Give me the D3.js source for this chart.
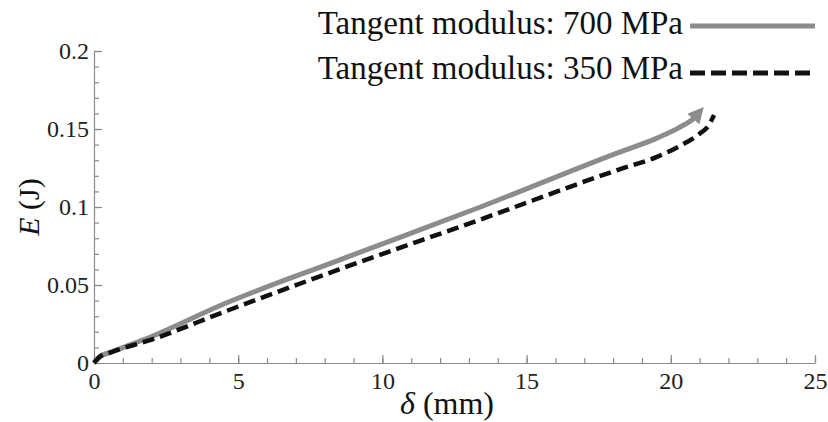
<!DOCTYPE html>
<html>
<head>
<meta charset="utf-8">
<style>
  body { margin: 0; background: #fff; }
  .axis path, .axis line { stroke: #8a8a8a; stroke-width: 1.2; }
</style>
</head>
<body>
<svg width="828" height="422"></svg>
<script src="https://cdnjs.cloudflare.com/ajax/libs/d3/7.8.5/d3.min.js"></script>
<script>
// values
var seriesNames = ["Tangent modulus: 700 MPa", "Tangent modulus: 350 MPa"];
var delta700 = [0, 0.2, 0.6, 2, 4.4, 8.5, 13.4, 18.2, 19.5, 20.3, 20.8, 21.0];
var energy700 = [0, 0.004, 0.007, 0.017, 0.037, 0.066, 0.100, 0.135, 0.144, 0.151, 0.157, 0.161];
var delta350 = [0, 0.2, 0.6, 2, 4.4, 8.5, 13.4, 18.2, 19.5, 20.3, 21.0, 21.3, 21.5];
var energy350 = [0, 0.004, 0.007, 0.015, 0.032, 0.060, 0.092, 0.124, 0.132, 0.139, 0.147, 0.152, 0.159];
var xTicks = [0, 5, 10, 15, 20, 25];
var yTicks = [0, 0.05, 0.1, 0.15, 0.2];

var serif = "Liberation Serif";
var svg = d3.select("svg");

var x = d3.scaleLinear().domain([0, 25]).range([94, 815]);
var y = d3.scaleLinear().domain([0, 0.2]).range([363, 51]);

function styleTicks(g) {
  g.selectAll("text")
      .attr("font-family", serif)
      .attr("font-size", 24)
      .attr("fill", "#222");
}

// minor ticks first, then major with labels
svg.append("g")
    .attr("class", "axis")
    .attr("transform", "translate(0," + y(0) + ")")
    .call(d3.axisBottom(x).ticks(25).tickSize(-5).tickFormat(""))
    .call(function(g) { g.select(".domain").remove(); });
svg.append("g")
    .attr("class", "axis")
    .attr("transform", "translate(0," + y(0) + ")")
    .call(d3.axisBottom(x).tickValues(xTicks).tickSize(-8).tickSizeOuter(0).tickPadding(9)
      .tickFormat(d3.format("d")))
    .call(styleTicks);

svg.append("g")
    .attr("class", "axis")
    .attr("transform", "translate(" + x(0) + ",0)")
    .call(d3.axisLeft(y).ticks(20).tickSize(-5).tickFormat(""))
    .call(function(g) { g.select(".domain").remove(); });
svg.append("g")
    .attr("class", "axis")
    .attr("transform", "translate(" + x(0) + ",0)")
    .call(d3.axisLeft(y).tickValues(yTicks).tickSize(-8).tickSizeOuter(0).tickPadding(5)
      .tickFormat(function(d) { return String(d); }))
    .call(styleTicks);

// arrow marker for the 700 MPa curve
svg.append("defs").append("marker")
    .attr("id", "arrow")
    .attr("viewBox", "0 0 10 10")
    .attr("refX", 6).attr("refY", 5)
    .attr("markerWidth", 3.2).attr("markerHeight", 3.2)
    .attr("orient", "auto")
  .append("path")
    .attr("d", "M0,0L10,5L0,10z")
    .attr("fill", "#8c8c8c");

var line = d3.line()
    .x(function(d) { return x(d[0]); })
    .y(function(d) { return y(d[1]); })
    .curve(d3.curveMonotoneX);

svg.append("path")
    .datum(d3.zip(delta700, energy700))
    .attr("fill", "none")
    .attr("stroke", "#8c8c8c")
    .attr("stroke-width", 5)
    .attr("marker-end", "url(#arrow)")
    .attr("d", line);

svg.append("path")
    .datum(d3.zip(delta350, energy350))
    .attr("fill", "none")
    .attr("stroke", "#111")
    .attr("stroke-width", 4.5)
    .attr("stroke-dasharray", "12,6")
    .attr("d", line);

// legend
var legend = svg.append("g");
legend.selectAll("text").data(seriesNames).enter().append("text")
    .attr("x", 683)
    .attr("y", function(d, i) { return 34 + i * 45; })
    .attr("text-anchor", "end")
    .attr("font-family", serif).attr("font-size", 33).attr("fill", "#111")
    .text(function(d) { return d; });
legend.append("line").attr("x1", 690).attr("x2", 815).attr("y1", 26).attr("y2", 26)
    .attr("stroke", "#8c8c8c").attr("stroke-width", 5);
legend.append("line").attr("x1", 690).attr("x2", 815).attr("y1", 73).attr("y2", 73)
    .attr("stroke", "#111").attr("stroke-width", 5).attr("stroke-dasharray", "15,6");

// axis titles
var xl = svg.append("text")
    .attr("font-family", serif).attr("font-size", 32).attr("fill", "#111")
    .attr("x", 447).attr("y", 414).attr("text-anchor", "middle");
xl.append("tspan").attr("font-style", "italic").text("δ");
xl.append("tspan").text(" (mm)");

var yl = svg.append("text")
    .attr("font-family", serif).attr("font-size", 30).attr("fill", "#111")
    .attr("transform", "translate(39,207) rotate(-90)")
    .attr("text-anchor", "middle");
yl.append("tspan").attr("font-style", "italic").text("E");
yl.append("tspan").text(" (J)");
</script>
</body>
</html>
